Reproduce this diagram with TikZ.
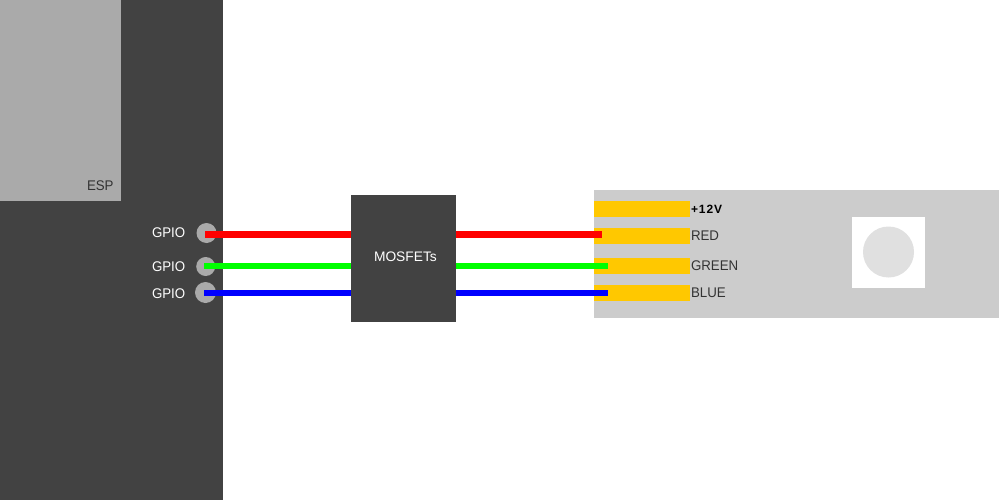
\documentclass[tikz,border=0pt]{standalone}
\usepackage{fontspec}
\setmainfont{Liberation Sans}
\newfontfamily\labelfont[FakeStretch=0.95]{Liberation Sans}
\definecolor{board}{HTML}{424242}
\definecolor{module}{HTML}{AAAAAA}
\definecolor{strip}{HTML}{CCCCCC}
\definecolor{pad}{HTML}{FFC800}
\definecolor{led}{HTML}{E0E0E0}
\definecolor{ink}{HTML}{333333}
\definecolor{wr}{HTML}{FF0000}
\definecolor{wg}{HTML}{00FF00}
\definecolor{wb}{HTML}{0000FF}
\tikzset{
  x=1pt,y=-1pt,
  box/.style={rectangle,draw=none,inner sep=0pt,outer sep=0pt,anchor=north west},
  padbox/.style={box,fill=pad,minimum width=96pt,minimum height=16pt},
  pin/.style={circle,fill=module,draw=none,inner sep=0pt,outer sep=0pt},
  wire/.style={line width=#1,line cap=butt},
  whitelabel/.style={text=white,font=\labelfont\fontsize{14}{16}\selectfont,anchor=base west,inner sep=0pt,outer sep=0pt},
  darklabel/.style={text=ink,font=\labelfont\fontsize{14}{16}\selectfont,anchor=base west,inner sep=0pt,outer sep=0pt},
}
\begin{document}
\begin{tikzpicture}
\useasboundingbox (0,0) rectangle (1000,500);
\fill[white] (0,0) rectangle (1000,500);
% ESP board
\node[box,fill=board,minimum width=223pt,minimum height=500pt] (esp) at (0,0) {};
\node[box,fill=module,minimum width=121pt,minimum height=201pt] (espmodule) at (0,0) {};
\node[darklabel] (esplabel) at (87,190) {ESP};
% LED strip
\node[box,fill=strip,minimum width=405pt,minimum height=128pt] (ledstrip) at (594,190) {};
\node[padbox] (pad12) at (594,201) {};
\node[padbox] (padr) at (594,228) {};
\node[padbox] (padg) at (594,258) {};
\node[padbox] (padb) at (594,285) {};
\node[box,fill=white,minimum width=73pt,minimum height=71pt] (ledcase) at (852,217) {};
\node[circle,fill=led,minimum size=51pt,inner sep=0pt] (ledchip) at (888.5,252) {};
% pins
\node[pin,minimum size=20pt] (pinr) at (206.5,233) {};
\node[pin,minimum size=19pt] (ping) at (205.7,266.5) {};
\node[pin,minimum size=21pt] (pinb) at (205.5,292.5) {};
\node[whitelabel] (gpior) at (152,237.7) {GPIO};
\node[whitelabel] (gpiog) at (152,271.7) {GPIO};
\node[whitelabel] (gpiob) at (152,298.7) {GPIO};
% MOSFET block
\node[box,fill=board,minimum width=105pt,minimum height=127pt] (mosfets) at (351,195) {};
\node[whitelabel,font=\fontsize{13.8}{16}\selectfont] (mosfetlabel) at (374,261.7) {MOSFETs};
% wire ends
\coordinate (rs) at (205,234.5);
\coordinate (re) at (602,234.5);
\coordinate (gs) at (204,266);
\coordinate (ge) at (608,266);
\coordinate (bs) at (204,293);
\coordinate (be) at (608,293);
% wires
\draw[wire=7pt,wr] (rs) -- (rs -| mosfets.west);
\draw[wire=7pt,wr] (re -| mosfets.east) -- (re);
\draw[wire=6pt,wg] (gs) -- (gs -| mosfets.west);
\draw[wire=6pt,wg] (ge -| mosfets.east) -- (ge);
\draw[wire=6pt,wb] (bs) -- (bs -| mosfets.west);
\draw[wire=6pt,wb] (be -| mosfets.east) -- (be);
% pad labels
\node[darklabel,text=black,font=\fontsize{12}{14}\selectfont\addfontfeatures{LetterSpace=8}\bfseries] (l12) at (691,213) {+12V};
\node[darklabel] (lr) at (691,240.5) {RED};
\node[darklabel] (lg) at (691,270.7) {GREEN};
\node[darklabel] (lb) at (691,297.7) {BLUE};
\end{tikzpicture}
\end{document}
